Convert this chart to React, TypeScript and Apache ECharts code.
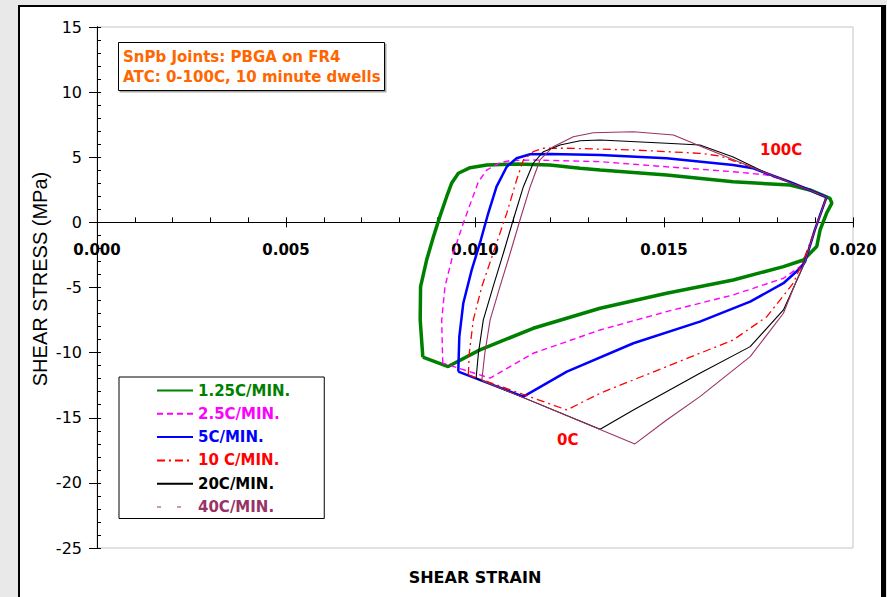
import React, { useEffect, useRef } from "react";
import * as echarts from "echarts";

// ---- Data ----
const seriesNames = ["1.25C/MIN.", "2.5C/MIN.", "5C/MIN.", "10 C/MIN.", "20C/MIN.", "40C/MIN."];
const seriesColors = ["#008000", "#ff00ff", "#0000ff", "#ff0000", "#000000", "#993366"];

const strain125 = [0.00862, 0.00855, 0.00856, 0.00872, 0.0089, 0.00907, 0.00925, 0.00938, 0.00956, 0.00987, 0.01031, 0.0111, 0.01198, 0.01278, 0.01331, 0.01507, 0.01683, 0.01833, 0.01886, 0.01939, 0.01944, 0.0193, 0.01913, 0.01904, 0.01869, 0.01816, 0.01683, 0.01507, 0.01331, 0.01154, 0.01013, 0.00929, 0.00862];
const stress125 = [-10.35, -7.49, -4.93, -2.89, -1.1, 0.44, 1.97, 3.0, 3.77, 4.2, 4.41, 4.48, 4.41, 4.15, 4.02, 3.64, 3.12, 2.87, 2.49, 1.85, 1.47, 0.7, -0.58, -1.86, -2.89, -3.4, -4.42, -5.44, -6.59, -8.13, -9.79, -11.07, -10.35];

const strain25 = [0.009146, 0.009119, 0.009206, 0.009426, 0.00969, 0.009913, 0.01009, 0.01031, 0.01066, 0.01093, 0.01154, 0.01331, 0.01507, 0.01683, 0.01772, 0.01833, 0.0193, 0.01899, 0.01873, 0.0186, 0.01816, 0.01683, 0.01507, 0.01331, 0.01154, 0.0104, 0.009146];
const stress25 = [-10.81, -7.49, -4.93, -2.37, -0.07, 1.72, 3.12, 4.02, 4.58, 4.74, 4.79, 4.66, 4.27, 3.89, 3.64, 3.1, 1.95, -0.58, -3.04, -3.4, -4.29, -5.57, -6.85, -8.26, -10.05, -11.96, -10.81];

const strain5 = [0.009558, 0.009585, 0.00969, 0.009913, 0.01013, 0.01035, 0.01057, 0.01084, 0.0111, 0.01146, 0.01198, 0.01331, 0.01507, 0.01683, 0.01736, 0.01833, 0.0193, 0.01899, 0.01873, 0.0186, 0.01816, 0.01728, 0.01595, 0.01419, 0.01243, 0.01128, 0.009558];
const stress5 = [-11.46, -8.77, -6.21, -3.65, -1.6, 0.7, 2.74, 4.27, 4.92, 5.23, 5.25, 5.17, 4.92, 4.41, 4.15, 3.1, 1.95, -0.58, -3.04, -3.52, -4.67, -6.09, -7.62, -9.28, -11.46, -13.38, -11.46];

const strain10 = [0.009823, 0.009849, 0.009955, 0.01018, 0.01048, 0.01084, 0.0111, 0.01128, 0.01154, 0.01181, 0.01243, 0.01419, 0.01595, 0.01648, 0.01728, 0.01833, 0.0193, 0.01899, 0.01869, 0.01842, 0.01772, 0.01683, 0.01507, 0.01331, 0.01243, 0.009823];
const stress10 = [-11.71, -10.05, -7.49, -4.93, -2.37, 0.7, 3.25, 4.79, 5.43, 5.69, 5.69, 5.56, 5.3, 5.1, 4.27, 3.1, 1.95, -0.58, -2.89, -4.67, -7.24, -9.03, -11.07, -13.12, -14.4, -11.71];

const strain20 = [0.01003, 0.01009, 0.01022, 0.01048, 0.01075, 0.01101, 0.01128, 0.01154, 0.01181, 0.01225, 0.01278, 0.01331, 0.01507, 0.01595, 0.01683, 0.01772, 0.01833, 0.0193, 0.01899, 0.01873, 0.0186, 0.01816, 0.01728, 0.01595, 0.01419, 0.01331, 0.01003];
const stress20 = [-11.96, -10.05, -7.49, -4.93, -2.37, 0.18, 2.74, 4.54, 5.43, 5.94, 6.27, 6.32, 6.07, 5.94, 5.02, 3.77, 3.1, 1.95, -0.58, -3.04, -3.91, -6.72, -9.54, -11.58, -14.4, -15.88, -11.96];

const strain40 = [0.01018, 0.01026, 0.0104, 0.01066, 0.01093, 0.01119, 0.01146, 0.01172, 0.01207, 0.0126, 0.01313, 0.01419, 0.01525, 0.01595, 0.01772, 0.0193, 0.01899, 0.01873, 0.01851, 0.01816, 0.01728, 0.01595, 0.01507, 0.01423, 0.01018];
const stress40 = [-12.13, -10.05, -7.49, -4.93, -2.37, 0.18, 2.74, 4.79, 5.81, 6.58, 6.88, 6.96, 6.71, 5.86, 3.77, 1.95, -0.58, -3.04, -4.42, -6.98, -10.31, -13.38, -15.17, -17.01, -12.13];

const strainSets = [strain125, strain25, strain5, strain10, strain20, strain40];
const stressSets = [stress125, stress25, stress5, stress10, stress20, stress40];

const xMin = 0, xMax = 0.02, xMajor = 0.005, xMinor = 0.001;
const yMin = -25, yMax = 15, yMajor = 5, yMinor = 1;

const annotationLines = ["SnPb Joints: PBGA on FR4", "ATC: 0-100C, 10 minute dwells"];

const FONT = '"DejaVu Sans", "Liberation Sans", Arial, sans-serif';
const ARIAL = '"Liberation Sans", Arial, sans-serif';

// plot-area geometry
const GRID = { left: 97, right: 34, top: 27, bottom: 49 };
const PLOT_H = 597 - GRID.top - GRID.bottom;
// distance from the bottom of the plot to the stress = 0 line
const ZERO_OFFSET = (PLOT_H * (0 - yMin)) / (yMax - yMin);

export default function App() {
  const ref = useRef<HTMLDivElement>(null);

  useEffect(() => {
    document.body.style.margin = "0";
    if (!ref.current) return;
    const chart = echarts.init(ref.current, undefined, { renderer: "svg" });

    const lineStyles: any[] = [
      { width: 3.5, type: "solid" },
      { width: 1.4, type: [6, 4] },
      { width: 2.5, type: "solid" },
      { width: 1.3, type: [8, 4, 2, 4] },
      { width: 1.1, type: "solid" },
      { width: 1.1, type: "solid" },
    ];

    const series = seriesNames.map((name, i) => ({
      name,
      type: "line",
      xAxisIndex: 0,
      yAxisIndex: 0,
      symbol: "none",
      showSymbol: false,
      smooth: false,
      clip: false,
      lineStyle: { color: seriesColors[i], ...lineStyles[i] },
      itemStyle: { color: seriesColors[i] },
      data: strainSets[i].map((x, k) => [x, stressSets[i][k]]),
      z: 3 + i,
    }));

    chart.setOption({
      animation: false,
      backgroundColor: "transparent",
      textStyle: { fontFamily: FONT },
      grid: {
        ...GRID,
        show: true,
        borderColor: "#c4c4c4",
        borderWidth: 1,
        backgroundColor: "transparent",
      },
      legend: {
        orient: "vertical",
        left: 119,
        top: 377,
        padding: [6, 34, 4, 37],
        itemWidth: 36,
        itemHeight: 14,
        itemGap: 8.3,
        backgroundColor: "#ffffff",
        borderColor: "#000000",
        borderWidth: 1,
        selectedMode: false,
        itemStyle: { opacity: 0, color: "transparent", borderWidth: 0 },
        textStyle: { fontFamily: FONT, fontWeight: "bold", fontSize: 15, lineHeight: 15 },
        data: seriesNames.map((name, i) => ({
          name,
          itemStyle: { opacity: 0, color: "transparent", borderWidth: 0 },
          textStyle: { color: seriesColors[i], fontWeight: "bold", fontSize: 15 },
          lineStyle: i === 5 ? { type: [4, 16], width: 1.2 } : undefined,
        })),
      },
      xAxis: [
        {
          type: "value",
          position: "bottom",
          offset: -ZERO_OFFSET,
          min: xMin,
          max: xMax,
          interval: xMajor,
          axisLine: { onZero: false, lineStyle: { color: "#000", width: 1 } },
          axisTick: { show: true, inside: false, length: 5, lineStyle: { color: "#000" } },
          axisLabel: {
            margin: 20,
            color: "#000",
            fontWeight: "bold",
            fontSize: 15,
            fontFamily: FONT,
            formatter: (v: number) => v.toFixed(3),
          },
          splitLine: { show: false },
        },
        {
          type: "value",
          position: "bottom",
          offset: -ZERO_OFFSET,
          min: xMin,
          max: xMax,
          interval: xMinor,
          axisLine: { onZero: false, lineStyle: { color: "#000", width: 1 } },
          axisTick: { show: true, inside: true, length: 5, lineStyle: { color: "#000" } },
          axisLabel: { show: false },
          splitLine: { show: false },
        },
      ],
      yAxis: [
        {
          type: "value",
          min: yMin,
          max: yMax,
          interval: yMajor,
          axisLine: { show: true, onZero: false, lineStyle: { color: "#000", width: 1 } },
          axisTick: { show: true, inside: false, length: 8, lineStyle: { color: "#000" } },
          axisLabel: { margin: 15, color: "#000", fontSize: 16, fontFamily: FONT },
          splitLine: { show: false },
        },
        {
          type: "value",
          min: yMin,
          max: yMax,
          interval: yMinor,
          position: "left",
          axisLine: { show: true, onZero: false, lineStyle: { color: "#000", width: 1 } },
          axisTick: { show: true, inside: true, length: 4, lineStyle: { color: "#000" } },
          axisLabel: { show: false },
          splitLine: { show: false },
        },
      ],
      series,
      graphic: [
        {
          type: "rect",
          z: 50,
          shape: { x: 118.5, y: 42.5, width: 266, height: 48 },
          style: { fill: "#ffffff", stroke: "#000000", lineWidth: 1, shadowColor: "rgba(0,0,0,0.35)", shadowOffsetX: 1.5, shadowOffsetY: 1.5, shadowBlur: 0 },
        },
        ...annotationLines.map((t, i) => ({
          type: "text",
          z: 51,
          x: 123,
          y: 57 + i * 20,
          style: {
            text: t,
            fill: "#ff6600",
            fontSize: 15,
            fontWeight: "bold",
            fontFamily: FONT,
            align: "left",
            verticalAlign: "middle",
            textAlign: "left",
            textVerticalAlign: "middle",
          },
        })),
        {
          type: "text",
          z: 51,
          x: 760,
          y: 150,
          style: { text: "100C", fill: "#ff0000", fontSize: 15, fontWeight: "bold", fontFamily: FONT, align: "left", verticalAlign: "middle", textAlign: "left", textVerticalAlign: "middle" },
        },
        {
          type: "text",
          z: 51,
          x: 557,
          y: 440,
          style: { text: "0C", fill: "#ff0000", fontSize: 15, fontWeight: "bold", fontFamily: FONT, align: "left", verticalAlign: "middle", textAlign: "left", textVerticalAlign: "middle" },
        },
        {
          type: "text",
          z: 51,
          x: 475,
          y: 577,
          style: { text: "SHEAR STRAIN", fill: "#000", fontSize: 16, fontWeight: "bold", fontFamily: FONT, align: "center", verticalAlign: "middle", textAlign: "center", textVerticalAlign: "middle" },
        },
        {
          type: "text",
          z: 51,
          x: 40,
          y: 279,
          rotation: Math.PI / 2,
          style: { text: "SHEAR STRESS (MPa)", fill: "#000", fontSize: 20, fontFamily: ARIAL, align: "center", verticalAlign: "middle", textAlign: "center", textVerticalAlign: "middle" },
        },
      ],
    });

    return () => chart.dispose();
  }, []);

  return (
    <div style={{ position: "fixed", left: 0, top: 0, width: 887, height: 597, background: "#e9e9e9", overflow: "hidden" }}>
      <div
        style={{
          position: "absolute",
          left: 18,
          top: 5,
          width: 868,
          height: 640,
          boxSizing: "border-box",
          borderLeft: "2.5px solid #000",
          borderTop: "2.5px solid #000",
          borderRight: "5px solid #000",
          background: "#ffffff",
        }}
      />
      <div ref={ref} style={{ position: "absolute", left: 0, top: 0, width: 887, height: 597 }} />
    </div>
  );
}
